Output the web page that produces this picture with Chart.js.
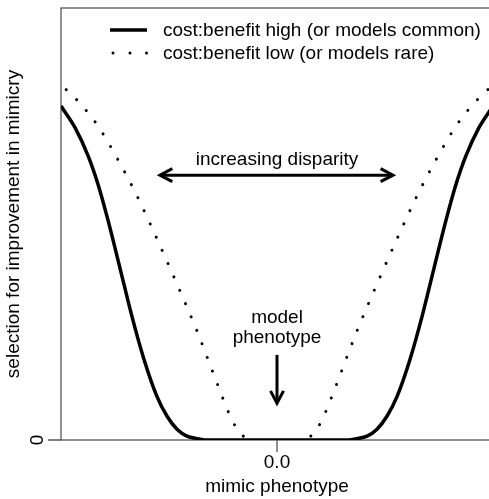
<!DOCTYPE html>
<html>
<head>
<meta charset="utf-8">
<script src="https://cdn.jsdelivr.net/npm/chart.js@4.4.1/dist/chart.umd.min.js"></script>
<style>
  html, body { margin: 0; padding: 0; background: #fff; overflow: hidden; }
  #wrap { width: 495px; height: 499px; }
</style>
</head>
<body>
<div id="wrap"><canvas id="c"></canvas></div>
<script>
// ── données (x : phénotype, -1..1 ; y : sélection, 0..1)
const phenHigh = [-1.0, -0.935, -0.874, -0.827, -0.781, -0.727, -0.671, -0.616, -0.556, -0.509, -0.463, -0.417, -0.370, -0.324,
                   0.0,
                   0.324, 0.370, 0.417, 0.463, 0.509, 0.556, 0.616, 0.671, 0.727, 0.781, 0.827, 0.874, 0.935, 1.0];
const selHigh  = [0.773, 0.723, 0.657, 0.589, 0.506, 0.398, 0.285, 0.187, 0.101, 0.055, 0.025, 0.009, 0.003, 0.0,
                  0.0,
                  0.0, 0.003, 0.009, 0.025, 0.055, 0.101, 0.187, 0.285, 0.398, 0.506, 0.589, 0.657, 0.723, 0.773];

const phenLow = [-1.0, -0.926, -0.833, -0.741, -0.648, -0.556, -0.463, -0.370, -0.278, -0.231, -0.204, -0.171, -0.148, -0.130,
                  0.0,
                  0.130, 0.148, 0.171, 0.204, 0.231, 0.278, 0.370, 0.463, 0.556, 0.648, 0.741, 0.833, 0.926, 1.0];
const selLow  = [0.822, 0.787, 0.730, 0.653, 0.565, 0.466, 0.361, 0.252, 0.132, 0.072, 0.042, 0.016, 0.006, 0.0,
                 null,
                 0.0, 0.006, 0.016, 0.042, 0.072, 0.132, 0.252, 0.361, 0.466, 0.565, 0.653, 0.730, 0.787, 0.822];

const seriesLabels = ['cost:benefit high (or models common)', 'cost:benefit low (or models rare)'];
const xTickLabel = '0.0';
const yTickLabel = '0';
const xTitle = 'mimic phenotype';
const yTitle = 'selection for improvement in mimicry';

// ── annotations (coordonnées dans les unités des axes)
const disparityText  = { x: 0, y: 0.648, text: 'increasing disparity' };
const disparityArrow = { x0: -0.542, x1: 0.537, y: 0.613 };
const modelText      = { x: 0, y: [0.282, 0.236], text: ['model', 'phenotype'] };
const modelArrow     = { x: 0, y0: 0.197, y1: 0.085 };

const FONT = '19px "Liberation Sans", Arial, sans-serif';
const INK  = '#000';
const AXIS = '#555';

function pts(xs, ys) { return xs.map((x, i) => ({ x, y: ys[i] })); }

function arrowHead(ctx, tx, ty, ang) {
  const L = 14, a = Math.PI / 6.5;
  ctx.beginPath();
  ctx.moveTo(tx - L * Math.cos(ang - a), ty - L * Math.sin(ang - a));
  ctx.lineTo(tx, ty);
  ctx.lineTo(tx - L * Math.cos(ang + a), ty - L * Math.sin(ang + a));
  ctx.stroke();
}

// ── cadre, graduations, titres
const decor = {
  id: 'decor',
  beforeDatasetsDraw(chart) {
    const { ctx, chartArea: a, scales: { x, y } } = chart;
    ctx.save();
    ctx.strokeStyle = AXIS;
    ctx.lineWidth = 1.3;
    ctx.strokeRect(a.left, a.top, a.right - a.left, a.bottom - a.top);
    const x0 = x.getPixelForValue(0), y0 = y.getPixelForValue(0);
    ctx.beginPath();
    ctx.moveTo(a.left - 13, y0); ctx.lineTo(a.left, y0);
    ctx.moveTo(x0, a.bottom); ctx.lineTo(x0, a.bottom + 12);
    ctx.stroke();

    ctx.fillStyle = INK;
    ctx.font = FONT;
    ctx.textAlign = 'center';
    ctx.textBaseline = 'middle';
    ctx.fillText(xTickLabel, x0, 463);
    ctx.fillText(xTitle, x0, 487);

    ctx.save();
    ctx.translate(38, y0);
    ctx.rotate(-Math.PI / 2);
    ctx.fillText(yTickLabel, 0, 0);
    ctx.restore();

    ctx.save();
    ctx.translate(14, (a.top + a.bottom) / 2);
    ctx.rotate(-Math.PI / 2);
    ctx.fillText(yTitle, 0, 0);
    ctx.restore();
    ctx.restore();
  },
  afterDatasetsDraw(chart) {
    const { ctx, scales: { x, y } } = chart;
    ctx.save();
    ctx.fillStyle = INK;
    ctx.strokeStyle = INK;
    ctx.font = FONT;
    ctx.textAlign = 'center';
    ctx.textBaseline = 'middle';

    // flèche double "increasing disparity"
    ctx.fillText(disparityText.text, x.getPixelForValue(disparityText.x), y.getPixelForValue(disparityText.y));
    const ax0 = x.getPixelForValue(disparityArrow.x0), ax1 = x.getPixelForValue(disparityArrow.x1);
    const ay = y.getPixelForValue(disparityArrow.y);
    ctx.lineWidth = 3;
    ctx.lineCap = 'butt';
    ctx.beginPath(); ctx.moveTo(ax0 + 2, ay); ctx.lineTo(ax1 - 2, ay); ctx.stroke();
    ctx.lineJoin = 'miter';
    arrowHead(ctx, ax0, ay, Math.PI);
    arrowHead(ctx, ax1, ay, 0);

    // flèche "model phenotype"
    modelText.text.forEach((t, i) => ctx.fillText(t, x.getPixelForValue(modelText.x), y.getPixelForValue(modelText.y[i])));
    const mx = x.getPixelForValue(modelArrow.x);
    const my0 = y.getPixelForValue(modelArrow.y0), my1 = y.getPixelForValue(modelArrow.y1);
    ctx.beginPath(); ctx.moveTo(mx, my0); ctx.lineTo(mx, my1 - 2); ctx.stroke();
    arrowHead(ctx, mx, my1, Math.PI / 2);

    // légende
    ctx.textAlign = 'left';
    const ds = chart.data.datasets;
    ctx.lineWidth = ds[0].borderWidth;
    ctx.beginPath(); ctx.moveTo(110, 30); ctx.lineTo(147, 30); ctx.stroke();
    [113, 130, 146.5].forEach(px => { ctx.beginPath(); ctx.arc(px, 53, 1.5, 0, Math.PI * 2); ctx.fill(); });
    ctx.fillText(ds[0].label, 163, 31);
    ctx.fillText(ds[1].label, 163, 54);
    ctx.restore();
  }
};

new Chart(document.getElementById('c'), {
  type: 'line',
  data: {
    datasets: [
      { label: seriesLabels[0], data: pts(phenHigh, selHigh), borderColor: INK, borderWidth: 3.5,
        pointRadius: 0, cubicInterpolationMode: 'monotone', fill: false },
      { label: seriesLabels[1], data: pts(phenLow, selLow), borderColor: INK, borderWidth: 3,
        borderDash: [0.01, 14.5], borderDashOffset: 7.5, borderCapStyle: 'round',
        pointRadius: 0, cubicInterpolationMode: 'monotone', fill: false, spanGaps: false }
    ]
  },
  options: {
    responsive: true,
    maintainAspectRatio: false,
    animation: false,
    layout: { padding: { left: 61, top: 8, right: 2, bottom: 59 } },
    plugins: { legend: { display: false }, tooltip: { enabled: false } },
    scales: {
      x: { type: 'linear', min: -1, max: 1, display: false },
      y: { type: 'linear', min: 0, max: 1, display: false }
    }
  },
  plugins: [decor]
});
</script>
</body>
</html>
